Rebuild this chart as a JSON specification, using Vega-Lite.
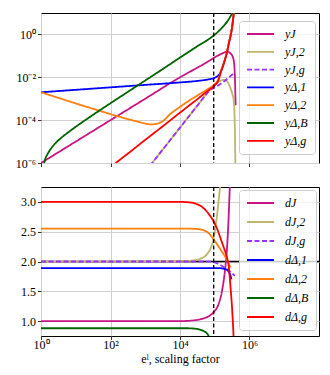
{
  "$schema": "https://vega.github.io/schema/vega-lite/v6.json",
  "padding": {"left": 5, "top": 11, "right": 5, "bottom": 5},
  "spacing": 15,
  "datasets": {
    "top": [
      {"s":"yJ","x":1,"y":1e-6},{"s":"yJ","x":10,"y":1e-5},{"s":"yJ","x":100,"y":1e-4},{"s":"yJ","x":1000,"y":1e-3},{"s":"yJ","x":10000,"y":0.01},{"s":"yJ","x":31623,"y":0.02818},{"s":"yJ","x":50119,"y":0.04266},{"s":"yJ","x":70795,"y":0.06026},{"s":"yJ","x":93325,"y":0.07943},{"s":"yJ","x":125893,"y":0.1047},{"s":"yJ","x":158489,"y":0.1259},{"s":"yJ","x":199526,"y":0.1479},{"s":"yJ","x":239883,"y":0.1549},{"s":"yJ","x":281838,"y":0.1318},{"s":"yJ","x":316228,"y":0.1047},{"s":"yJ","x":354813,"y":0.05623},{"s":"yJ","x":380189,"y":0.01},{"s":"yJ","x":398107,"y":0.000501},
      {"s":"yJ,2","x":1000,"y":3.89e-7},{"s":"yJ,2","x":3162,"y":4.17e-6},{"s":"yJ,2","x":10000,"y":4.47e-5},{"s":"yJ,2","x":19953,"y":1.862e-4},{"s":"yJ,2","x":31623,"y":4.786e-4},{"s":"yJ,2","x":50119,"y":1.23e-3},{"s":"yJ,2","x":70795,"y":2.399e-3},{"s":"yJ,2","x":93325,"y":3.802e-3},{"s":"yJ,2","x":125893,"y":6.026e-3},{"s":"yJ,2","x":158489,"y":7.244e-3},{"s":"yJ,2","x":181970,"y":7.586e-3},{"s":"yJ,2","x":223872,"y":6.607e-3},{"s":"yJ,2","x":281838,"y":3.162e-3},{"s":"yJ,2","x":316228,"y":1.778e-3},{"s":"yJ,2","x":354813,"y":7.079e-4},{"s":"yJ,2","x":380189,"y":3.162e-5},{"s":"yJ,2","x":398107,"y":1e-7},
      {"s":"yJ,g","x":1000,"y":3.89e-7},{"s":"yJ,g","x":3162,"y":4.17e-6},{"s":"yJ,g","x":10000,"y":4.47e-5},{"s":"yJ,g","x":19953,"y":1.862e-4},{"s":"yJ,g","x":31623,"y":4.786e-4},{"s":"yJ,g","x":50119,"y":1.23e-3},{"s":"yJ,g","x":70795,"y":2.399e-3},{"s":"yJ,g","x":93325,"y":3.162e-3},{"s":"yJ,g","x":125893,"y":4.169e-3},{"s":"yJ,g","x":158489,"y":5.37e-3},{"s":"yJ,g","x":199526,"y":7.079e-3},{"s":"yJ,g","x":251189,"y":9.55e-3},{"s":"yJ,g","x":316228,"y":0.01318},{"s":"yJ,g","x":354813,"y":0.01585},
      {"s":"yΔ,1","x":1,"y":1.995e-3},{"s":"yΔ,1","x":10,"y":2.6e-3},{"s":"yΔ,1","x":100,"y":3.388e-3},{"s":"yΔ,1","x":1000,"y":4.416e-3},{"s":"yΔ,1","x":3162,"y":5.012e-3},{"s":"yΔ,1","x":10000,"y":5.754e-3},{"s":"yΔ,1","x":31623,"y":6.761e-3},{"s":"yΔ,1","x":50119,"y":7.413e-3},{"s":"yΔ,1","x":70795,"y":8.128e-3},{"s":"yΔ,1","x":93325,"y":9.12e-3},{"s":"yΔ,1","x":112202,"y":0.01047},{"s":"yΔ,1","x":125893,"y":0.01202},{"s":"yΔ,1","x":141254,"y":0.01514},{"s":"yΔ,1","x":158489,"y":0.02399},{"s":"yΔ,1","x":177828,"y":0.04169},{"s":"yΔ,1","x":199526,"y":0.07413},{"s":"yΔ,1","x":223872,"y":0.1413},{"s":"yΔ,1","x":251189,"y":0.3548},{"s":"yΔ,1","x":281838,"y":0.7943},{"s":"yΔ,1","x":316228,"y":2.239},{"s":"yΔ,1","x":354813,"y":11.22},
      {"s":"yΔ,2","x":1,"y":1.995e-3},{"s":"yΔ,2","x":3.162,"y":1.096e-3},{"s":"yΔ,2","x":10,"y":6.026e-4},{"s":"yΔ,2","x":31.62,"y":3.388e-4},{"s":"yΔ,2","x":100,"y":1.905e-4},{"s":"yΔ,2","x":316.2,"y":1.122e-4},{"s":"yΔ,2","x":631,"y":8.318e-5},{"s":"yΔ,2","x":1000,"y":6.918e-5},{"s":"yΔ,2","x":1445,"y":6.31e-5},{"s":"yΔ,2","x":1995,"y":6.607e-5},{"s":"yΔ,2","x":3162,"y":8.913e-5},{"s":"yΔ,2","x":5370,"y":1.995e-4},{"s":"yΔ,2","x":10000,"y":4.169e-4},{"s":"yΔ,2","x":19953,"y":8.913e-4},{"s":"yΔ,2","x":31623,"y":1.413e-3},{"s":"yΔ,2","x":50119,"y":2.239e-3},{"s":"yΔ,2","x":70795,"y":3.162e-3},{"s":"yΔ,2","x":93325,"y":4.365e-3},{"s":"yΔ,2","x":125893,"y":7.943e-3},{"s":"yΔ,2","x":158489,"y":0.02399},{"s":"yΔ,2","x":199526,"y":0.07079},{"s":"yΔ,2","x":251189,"y":0.3548},{"s":"yΔ,2","x":316228,"y":2.239},{"s":"yΔ,2","x":354813,"y":11.22},
      {"s":"yΔ,B","x":1.0715,"y":2.0e-7},{"s":"yΔ,B","x":1.1482,"y":5.012e-7},{"s":"yΔ,B","x":1.2589,"y":1.122e-6},{"s":"yΔ,B","x":1.5849,"y":2.818e-6},{"s":"yΔ,B","x":1.9953,"y":5.012e-6},{"s":"yΔ,B","x":2.6915,"y":8.913e-6},{"s":"yΔ,B","x":3.9811,"y":1.585e-5},{"s":"yΔ,B","x":6.3096,"y":2.818e-5},{"s":"yΔ,B","x":10,"y":4.898e-5},{"s":"yΔ,B","x":31.62,"y":1.778e-4},{"s":"yΔ,B","x":100,"y":6.166e-4},{"s":"yΔ,B","x":316.2,"y":2.089e-3},{"s":"yΔ,B","x":1000,"y":7.079e-3},{"s":"yΔ,B","x":3162,"y":0.02399},{"s":"yΔ,B","x":10000,"y":0.08318},{"s":"yΔ,B","x":31623,"y":0.2818},{"s":"yΔ,B","x":93325,"y":0.8913},{"s":"yΔ,B","x":158489,"y":1.995},{"s":"yΔ,B","x":251189,"y":5.012},{"s":"yΔ,B","x":331131,"y":11.22},{"s":"yΔ,B","x":354813,"y":14.13},
      {"s":"yΔ,g","x":100,"y":6.457e-7},{"s":"yΔ,g","x":316.2,"y":2.754e-6},{"s":"yΔ,g","x":1000,"y":1.202e-5},{"s":"yΔ,g","x":3162,"y":5.129e-5},{"s":"yΔ,g","x":10000,"y":2.239e-4},{"s":"yΔ,g","x":19953,"y":5.37e-4},{"s":"yΔ,g","x":31623,"y":9.55e-4},{"s":"yΔ,g","x":50119,"y":1.738e-3},{"s":"yΔ,g","x":70795,"y":2.692e-3},{"s":"yΔ,g","x":93325,"y":3.802e-3},{"s":"yΔ,g","x":125893,"y":7.079e-3},{"s":"yΔ,g","x":141254,"y":0.01259},{"s":"yΔ,g","x":158489,"y":0.02239},{"s":"yΔ,g","x":177828,"y":0.03802},{"s":"yΔ,g","x":199526,"y":0.07079},{"s":"yΔ,g","x":223872,"y":0.1413},{"s":"yΔ,g","x":251189,"y":0.3548},{"s":"yΔ,g","x":281838,"y":0.7943},{"s":"yΔ,g","x":316228,"y":2.239},{"s":"yΔ,g","x":354813,"y":11.22},{"s":"yΔ,g","x":380189,"y":39.81}
    ],
    "bottom": [
      {"s":"dJ","x":1,"y":1.0},{"s":"dJ","x":10000,"y":1.0},{"s":"dJ","x":31623,"y":1.02},{"s":"dJ","x":50119,"y":1.05},{"s":"dJ","x":70795,"y":1.09},{"s":"dJ","x":93325,"y":1.15},{"s":"dJ","x":125893,"y":1.27},{"s":"dJ","x":158489,"y":1.48},{"s":"dJ","x":177828,"y":1.65},{"s":"dJ","x":199526,"y":1.88},{"s":"dJ","x":223872,"y":2.2},{"s":"dJ","x":251189,"y":2.75},{"s":"dJ","x":269153,"y":3.2},{"s":"dJ","x":288403,"y":3.6},
      {"s":"dJ,2","x":1,"y":2.0},{"s":"dJ,2","x":15849,"y":2.01},{"s":"dJ,2","x":25119,"y":2.02},{"s":"dJ,2","x":39811,"y":2.05},{"s":"dJ,2","x":63096,"y":2.14},{"s":"dJ,2","x":75858,"y":2.22},{"s":"dJ,2","x":85114,"y":2.3},{"s":"dJ,2","x":93325,"y":2.4},{"s":"dJ,2","x":102329,"y":2.53},{"s":"dJ,2","x":109648,"y":2.66},{"s":"dJ,2","x":120226,"y":2.85},{"s":"dJ,2","x":131826,"y":3.07},{"s":"dJ,2","x":144544,"y":3.28},{"s":"dJ,2","x":158489,"y":3.55},
      {"s":"dJ,g","x":1,"y":2.0},{"s":"dJ,g","x":63096,"y":2.0},{"s":"dJ,g","x":93325,"y":1.99},{"s":"dJ,g","x":125893,"y":1.96},{"s":"dJ,g","x":158489,"y":1.93},{"s":"dJ,g","x":199526,"y":1.89},{"s":"dJ,g","x":251189,"y":1.85},{"s":"dJ,g","x":316228,"y":1.8},{"s":"dJ,g","x":380189,"y":1.76},
      {"s":"dΔ,1","x":1,"y":1.89},{"s":"dΔ,1","x":125893,"y":1.89},{"s":"dΔ,1","x":177828,"y":1.88},{"s":"dΔ,1","x":223872,"y":1.86},{"s":"dΔ,1","x":251189,"y":1.83},{"s":"dΔ,1","x":281838,"y":1.77},{"s":"dΔ,1","x":301995,"y":1.7},
      {"s":"dΔ,2","x":1,"y":2.55},{"s":"dΔ,2","x":19953,"y":2.55},{"s":"dΔ,2","x":31623,"y":2.545},{"s":"dΔ,2","x":54954,"y":2.51},{"s":"dΔ,2","x":70795,"y":2.46},{"s":"dΔ,2","x":93325,"y":2.37},{"s":"dΔ,2","x":125893,"y":2.26},{"s":"dΔ,2","x":158489,"y":2.17},{"s":"dΔ,2","x":199526,"y":2.08},{"s":"dΔ,2","x":251189,"y":1.97},{"s":"dΔ,2","x":281838,"y":1.9},
      {"s":"dΔ,B","x":1,"y":0.88},{"s":"dΔ,B","x":15849,"y":0.88},{"s":"dΔ,B","x":25119,"y":0.875},{"s":"dΔ,B","x":35481,"y":0.86},{"s":"dΔ,B","x":48978,"y":0.83},{"s":"dΔ,B","x":60256,"y":0.79},{"s":"dΔ,B","x":67608,"y":0.74},{"s":"dΔ,B","x":79433,"y":0.6},
      {"s":"dΔ,g","x":1,"y":3.0},{"s":"dΔ,g","x":10000,"y":3.0},{"s":"dΔ,g","x":19953,"y":2.99},{"s":"dΔ,g","x":28184,"y":2.97},{"s":"dΔ,g","x":39811,"y":2.93},{"s":"dΔ,g","x":54954,"y":2.86},{"s":"dΔ,g","x":70795,"y":2.78},{"s":"dΔ,g","x":93325,"y":2.67},{"s":"dΔ,g","x":125893,"y":2.5},{"s":"dΔ,g","x":144544,"y":2.4},{"s":"dΔ,g","x":177828,"y":2.25},{"s":"dΔ,g","x":204174,"y":2.15},{"s":"dΔ,g","x":229087,"y":2.05},{"s":"dΔ,g","x":251189,"y":1.93},{"s":"dΔ,g","x":281838,"y":1.6},{"s":"dΔ,g","x":316228,"y":1.2},{"s":"dΔ,g","x":346737,"y":0.75},{"s":"dΔ,g","x":363078,"y":0.4}
    ],
    "vline": [{"x": 93325}],
    "hline": [{"y": 2}]
  },
  "vconcat": [
    {
      "width": 278,
      "height": 150,
      "layer": [
        {
          "data": {"name": "top"},
          "mark": {"type": "line", "clip": true, "strokeWidth": 1.8, "interpolate": "monotone"},
          "encoding": {
            "x": {"field": "x", "type": "quantitative", "scale": {"type": "log", "domain": [1, 95000000]}, "axis": {"values": [1, 100, 10000, 1000000], "labels": false, "title": null}},
            "y": {"field": "y", "type": "quantitative", "scale": {"type": "log", "domain": [0.000001, 10]}, "axis": {"values": [0.000001, 0.0001, 0.01, 1], "title": null, "labelExpr": "datum.value >= 0.5 ? '10⁰' : datum.value >= 0.005 ? '10⁻²' : datum.value >= 0.00005 ? '10⁻⁴' : '10⁻⁶'"}},
            "color": {"field": "s", "type": "nominal", "scale": {"domain": ["yJ","yJ,2","yJ,g","yΔ,1","yΔ,2","yΔ,B","yΔ,g"], "range": ["#c71585","#bdb76b","#9b30ff","#0000ff","#ff7f0e","#006400","#ff0000"]}, "legend": {"title": null, "orient": "none", "legendX": 198, "legendY": 8, "rowPadding": 5.8}},
            "strokeDash": {"field": "s", "type": "nominal", "scale": {"domain": ["yJ","yJ,2","yJ,g","yΔ,1","yΔ,2","yΔ,B","yΔ,g"], "range": [[1,0],[1,0],[5,2.5],[1,0],[1,0],[1,0],[1,0]]}, "legend": {"title": null, "orient": "none", "legendX": 198, "legendY": 8, "rowPadding": 5.8}}
          }
        },
        {
          "data": {"name": "vline"},
          "mark": {"type": "rule", "color": "black", "strokeDash": [4, 2.5], "strokeWidth": 1.3},
          "encoding": {"x": {"field": "x", "type": "quantitative", "axis": {"values": [1, 100, 10000, 1000000], "labels": false, "title": null}}}
        }
      ]
    },
    {
      "width": 278,
      "height": 149,
      "layer": [
        {
          "data": {"name": "hline"},
          "mark": {"type": "rule", "color": "black", "strokeWidth": 1.5},
          "encoding": {"y": {"field": "y", "type": "quantitative", "scale": {"domain": [0.75, 3.25]}, "axis": {"values": [1, 1.5, 2, 2.5, 3], "format": ".1f", "title": null}}}
        },
        {
          "data": {"name": "bottom"},
          "mark": {"type": "line", "clip": true, "strokeWidth": 1.8, "interpolate": "monotone"},
          "encoding": {
            "x": {"field": "x", "type": "quantitative", "scale": {"type": "log", "domain": [1, 95000000]}, "axis": {"values": [1, 100, 10000, 1000000], "title": "eˡ, scaling factor", "titlePadding": 3, "labelPadding": 0, "labelExpr": "datum.value < 10 ? '10⁰' : datum.value < 1000 ? '10²' : datum.value < 100000 ? '10⁴' : '10⁶'"}},
            "y": {"field": "y", "type": "quantitative", "scale": {"domain": [0.75, 3.25]}, "axis": {"values": [1, 1.5, 2, 2.5, 3], "format": ".1f", "title": null}},
            "color": {"field": "s", "type": "nominal", "scale": {"domain": ["dJ","dJ,2","dJ,g","dΔ,1","dΔ,2","dΔ,B","dΔ,g"], "range": ["#c71585","#bdb76b","#9b30ff","#0000ff","#ff7f0e","#006400","#ff0000"]}, "legend": {"title": null, "orient": "none", "legendX": 198, "legendY": 3, "rowPadding": 7}},
            "strokeDash": {"field": "s", "type": "nominal", "scale": {"domain": ["dJ","dJ,2","dJ,g","dΔ,1","dΔ,2","dΔ,B","dΔ,g"], "range": [[1,0],[1,0],[5,2.5],[1,0],[1,0],[1,0],[1,0]]}, "legend": {"title": null, "orient": "none", "legendX": 198, "legendY": 3, "rowPadding": 7}}
          }
        },
        {
          "data": {"name": "vline"},
          "mark": {"type": "rule", "color": "black", "strokeDash": [4, 2.5], "strokeWidth": 1.3},
          "encoding": {"x": {"field": "x", "type": "quantitative", "axis": {"values": [1, 100, 10000, 1000000], "title": "eˡ, scaling factor", "titlePadding": 3, "labelPadding": 0, "labelExpr": "datum.value < 10 ? '10⁰' : datum.value < 1000 ? '10²' : datum.value < 100000 ? '10⁴' : '10⁶'"}}}
        }
      ]
    }
  ],
  "resolve": {
    "scale": {"color": "independent", "strokeDash": "independent", "x": "independent", "y": "independent"},
    "legend": {"color": "independent", "strokeDash": "independent"}
  },
  "config": {
    "view": {"stroke": "black", "strokeWidth": 1},
    "font": "Liberation Serif",
    "axis": {"domain": false, "grid": true, "gridColor": "#d0d0d0", "gridWidth": 1, "tickColor": "black", "tickSize": 3.5, "tickWidth": 0.8, "labelFont": "Liberation Serif", "labelFontSize": 12, "labelColor": "black", "labelPadding": 2, "labelFlush": false, "labelOverlap": false, "titleFont": "Liberation Serif", "titleFontSize": 12, "titleFontWeight": "normal", "titleColor": "black"},
    "axisY": {"minExtent": 35, "maxExtent": 35},
    "legend": {"symbolType": "stroke", "symbolSize": 729, "symbolStrokeWidth": 1.8, "labelFont": "Liberation Serif", "labelFontStyle": "italic", "labelFontSize": 12, "labelColor": "black", "fillColor": "rgba(255,255,255,0.8)", "strokeColor": "#cccccc", "cornerRadius": 3, "padding": 7, "clipHeight": 12, "labelOffset": 10, "symbolOffset": 0}
  }
}
